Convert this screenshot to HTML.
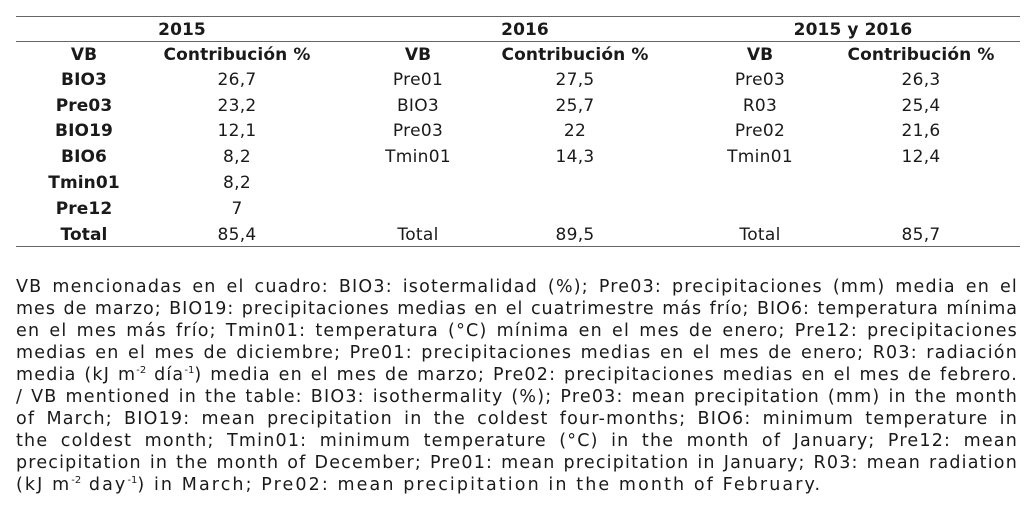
<!DOCTYPE html>
<html><head><meta charset="utf-8"><style>
body{margin:0;width:1034px;height:530px;background:#fff;font-family:"DejaVu Sans","Liberation Sans",sans-serif;color:#1a1a1a;position:relative;overflow:hidden}
.c{position:absolute;transform:translateX(-50%);white-space:nowrap;font-size:17px;letter-spacing:0.3px;line-height:20px}
.b{font-weight:bold;letter-spacing:0.1px}
.h{position:absolute;left:16px;width:1004px;height:0;border-top:1.5px solid #666}
.n{position:absolute;left:16px;width:1002px;font-size:17.5px;letter-spacing:1.2px;line-height:20px;text-align:justify;text-align-last:justify;white-space:nowrap}
sup{font-size:10px;line-height:0;letter-spacing:0}
</style></head><body>
<div class="h" style="top:16px"></div>
<div class="h" style="top:41px"></div>
<div class="h" style="top:246px"></div>
<div class="c b" style="left:182px;top:20px">2015</div>
<div class="c b" style="left:525px;top:20px">2016</div>
<div class="c b" style="left:853px;top:20px">2015 y 2016</div>
<div class="c b" style="left:84px;top:45px">VB</div>
<div class="c b" style="left:237px;top:45px">Contribución %</div>
<div class="c b" style="left:418px;top:45px">VB</div>
<div class="c b" style="left:575px;top:45px">Contribución %</div>
<div class="c b" style="left:760px;top:45px">VB</div>
<div class="c b" style="left:921px;top:45px">Contribución %</div>

<div class="c b" style="left:84px;top:70px">BIO3</div><div class="c" style="left:237px;top:70px">26,7</div>
<div class="c" style="left:418px;top:70px">Pre01</div><div class="c" style="left:575px;top:70px">27,5</div>
<div class="c" style="left:760px;top:70px">Pre03</div><div class="c" style="left:921px;top:70px">26,3</div>

<div class="c b" style="left:84px;top:96px">Pre03</div><div class="c" style="left:237px;top:96px">23,2</div>
<div class="c" style="left:418px;top:96px">BIO3</div><div class="c" style="left:575px;top:96px">25,7</div>
<div class="c" style="left:760px;top:96px">R03</div><div class="c" style="left:921px;top:96px">25,4</div>

<div class="c b" style="left:84px;top:121px">BIO19</div><div class="c" style="left:237px;top:121px">12,1</div>
<div class="c" style="left:418px;top:121px">Pre03</div><div class="c" style="left:575px;top:121px">22</div>
<div class="c" style="left:760px;top:121px">Pre02</div><div class="c" style="left:921px;top:121px">21,6</div>

<div class="c b" style="left:84px;top:147px">BIO6</div><div class="c" style="left:237px;top:147px">8,2</div>
<div class="c" style="left:418px;top:147px">Tmin01</div><div class="c" style="left:575px;top:147px">14,3</div>
<div class="c" style="left:760px;top:147px">Tmin01</div><div class="c" style="left:921px;top:147px">12,4</div>

<div class="c b" style="left:84px;top:173px">Tmin01</div><div class="c" style="left:237px;top:173px">8,2</div>
<div class="c b" style="left:84px;top:199px">Pre12</div><div class="c" style="left:237px;top:199px">7</div>

<div class="c b" style="left:84px;top:225px">Total</div><div class="c" style="left:237px;top:225px">85,4</div>
<div class="c" style="left:418px;top:225px">Total</div><div class="c" style="left:575px;top:225px">89,5</div>
<div class="c" style="left:760px;top:225px">Total</div><div class="c" style="left:921px;top:225px">85,7</div>

<div class="n" style="top:277px">VB mencionadas en el cuadro: BIO3: isotermalidad (%); Pre03: precipitaciones (mm) media en el</div>
<div class="n" style="top:299px;letter-spacing:1.0px">mes de marzo; BIO19: precipitaciones medias en el cuatrimestre más frío; BIO6: temperatura mínima</div>
<div class="n" style="top:321px">en el mes más frío; Tmin01: temperatura (°C) mínima en el mes de enero; Pre12: precipitaciones</div>
<div class="n" style="top:343px">medias en el mes de diciembre; Pre01: precipitaciones medias en el mes de enero; R03: radiación</div>
<div class="n" style="top:365px">media (kJ m<sup>-2</sup> día<sup>-1</sup>) media en el mes de marzo; Pre02: precipitaciones medias en el mes de febrero.</div>
<div class="n" style="top:387px">/ VB mentioned in the table: BIO3: isothermality (%); Pre03: mean precipitation (mm) in the month</div>
<div class="n" style="top:409px">of March; BIO19: mean precipitation in the coldest four-months; BIO6: minimum temperature in</div>
<div class="n" style="top:431px">the coldest month; Tmin01: minimum temperature (°C) in the month of January; Pre12: mean</div>
<div class="n" style="top:453px">precipitation in the month of December; Pre01: mean precipitation in January; R03: mean radiation</div>
<div class="n" style="top:475px;text-align-last:left;letter-spacing:2.1px">(kJ m<sup>-2</sup> day<sup>-1</sup>) in March; Pre02: mean precipitation in the month of February.</div>
</body></html>
